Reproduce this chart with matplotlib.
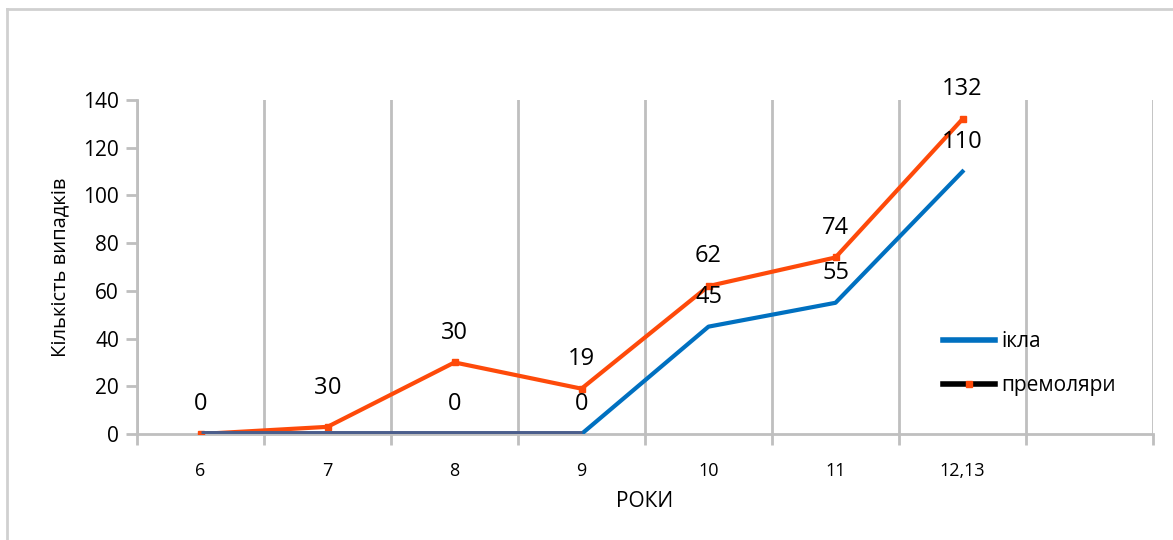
import matplotlib.pyplot as plt
from matplotlib.lines import Line2D

# data
years = ["6", "7", "8", "9", "10", "11", "12,13"]
ikla = [0, 0, 0, 0, 45, 55, 110]
premolyary = [0, 3, 30, 19, 62, 74, 132]

plt.rcParams['font.family'] = ['Open Sans', 'DejaVu Sans']

grid_col = '#bfbfbf'
orange = '#fe4a0a'
blue = '#0070c0'
slate = '#4b5e8c'

fig = plt.figure(figsize=(11.73, 5.40), dpi=100)
ax = fig.add_axes([137 / 1173, 106 / 540, 1016 / 1173, 334 / 540])
x = list(range(len(years)))

# lines
ax.plot(x, premolyary, color=orange, lw=3, marker='s', ms=4, zorder=3)
ax.plot(x[3:], ikla[3:], color=blue, lw=3, zorder=4)
ax.plot(x[:4], ikla[:4], color=slate, lw=5, zorder=5, solid_capstyle='butt')

# data labels
for i, v in enumerate(premolyary):
    dx, dy = 0, 21.5
    if i == 1:
        dx, dy = -5, 28
    ax.annotate(str(v), (i, v), xytext=(dx, dy), textcoords='offset points',
                ha='center', va='center', fontsize=17, zorder=6)
for i, v in enumerate(ikla):
    if i == 0:
        continue
    dx, dy = 0, 21.5
    if i == 1:
        dx, dy = 5, 33
    ax.annotate(str(v), (i, v), xytext=(dx, dy), textcoords='offset points',
                ha='center', va='center', fontsize=17, zorder=6)

# axes
ax.set_xlim(-0.5, 7.5)
ax.set_ylim(0, 140)
ax.set_yticks(range(0, 141, 20))
ax.set_xticks(x)
ax.set_xticklabels(years)
ax.set_xticks([i + 0.5 for i in range(-1, 8)], minor=True)
ax.grid(which='minor', axis='x', color=grid_col, lw=2)
ax.tick_params(axis='x', which='major', length=0, pad=20, labelsize=13)
ax.tick_params(axis='x', which='minor', length=8, width=2, color=grid_col)
ax.tick_params(axis='y', length=8, width=2, color=grid_col, labelsize=15, pad=5)
for s in ['top', 'right']:
    ax.spines[s].set_visible(False)
for s in ['left', 'bottom']:
    ax.spines[s].set_color(grid_col)
    ax.spines[s].set_linewidth(2)

ax.set_ylabel('Кількість випадків', fontsize=14.5, labelpad=9)
ax.set_xlabel('РОКИ', fontsize=15, labelpad=8)

# legend
handles = [Line2D([], [], color=blue, lw=4),
           Line2D([], [], color='black', lw=4, marker='s', ms=4,
                  markerfacecolor=orange, markeredgecolor=orange)]
fig.legend(handles, ['ікла', 'премоляри'], loc='upper left',
           bbox_to_anchor=(943 / 1173, 1 - 331 / 540), frameon=False,
           fontsize=15, handlelength=2.5, handletextpad=0.3,
           labelspacing=1.1, borderpad=0, borderaxespad=0)

# outer frame
fig.add_artist(Line2D([7 / 1173, 7 / 1173], [0, 1 - 9 / 540], color='#d0d0d0', lw=2))
fig.add_artist(Line2D([7 / 1173, 1], [1 - 9 / 540, 1 - 9 / 540], color='#d0d0d0', lw=2))

fig.savefig('out.png', dpi=100)
